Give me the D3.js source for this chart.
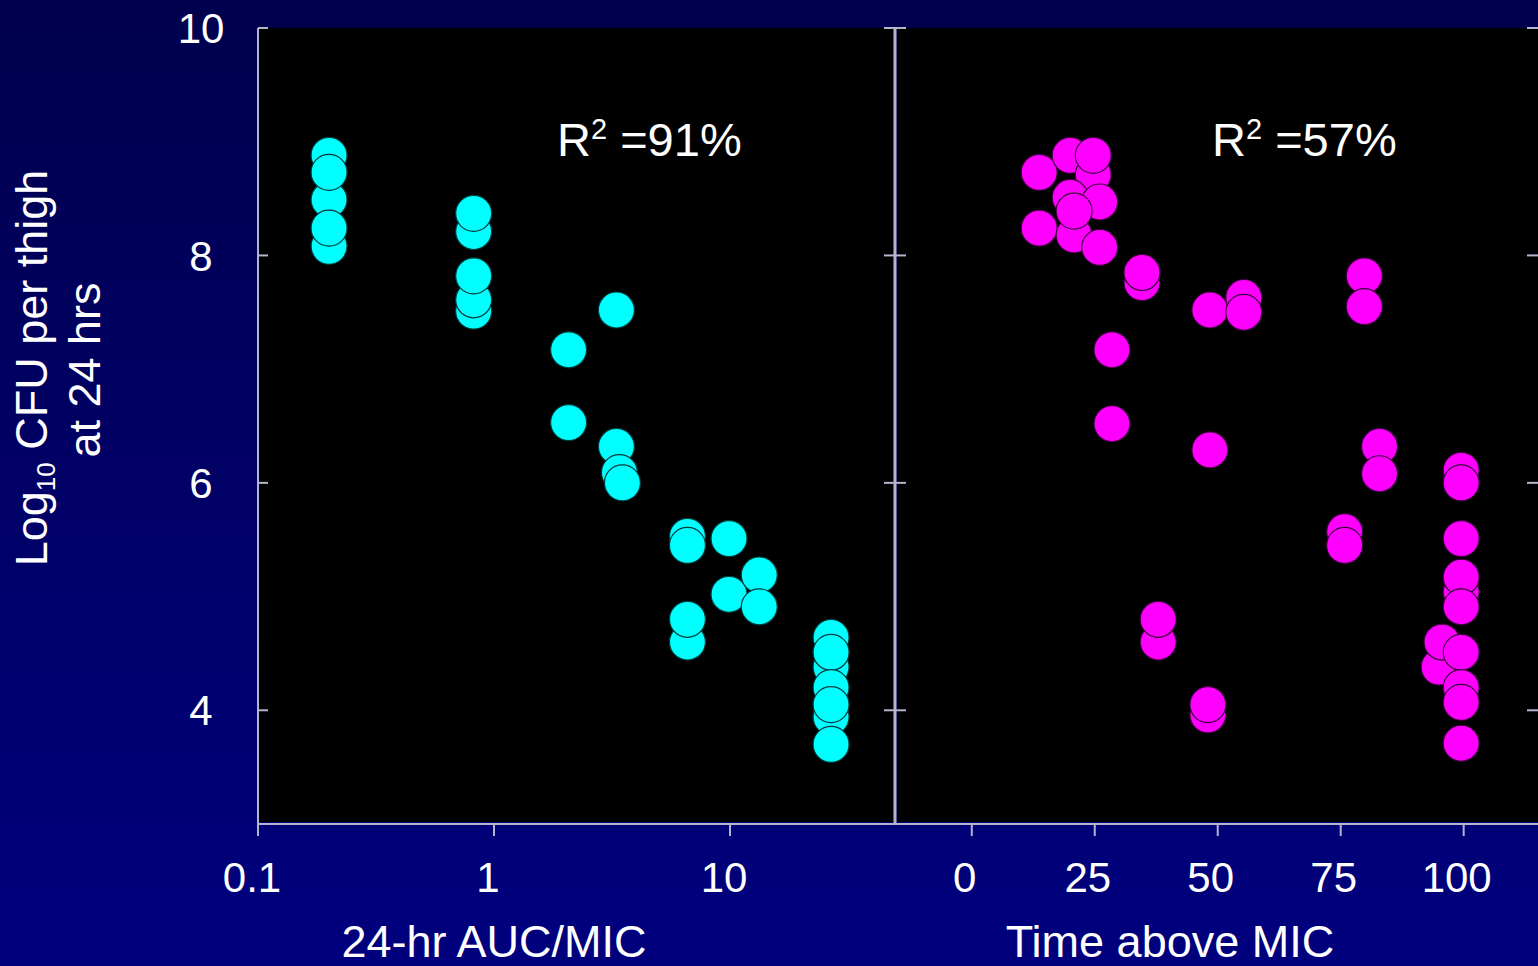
<!DOCTYPE html>
<html>
<head>
<meta charset="utf-8">
<script src="https://cdnjs.cloudflare.com/ajax/libs/d3/7.8.5/d3.min.js"></script>
<style>
  html, body { margin: 0; padding: 0; background: #000060; overflow: hidden; }
  svg { display: block; font-family: "Liberation Sans", Arial, sans-serif; }
</style>
</head>
<body>
<div id="chart"></div>
<script>
// data
var aucX = [0.2, 0.2, 0.2, 0.2, 0.2,
            0.82, 0.82, 0.82, 0.82, 0.82,
            2.07, 2.07,
            3.3, 3.3, 3.4, 3.5,
            6.6, 6.6, 6.6, 6.6,
            9.9, 9.9,
            13.3, 13.3,
            26.8, 26.8, 26.8, 26.8, 26.8, 26.8, 26.8];
var aucY = [8.88, 8.49, 8.08, 8.73, 8.24,
            7.51, 7.61, 7.82, 8.21, 8.37,
            7.17, 6.53,
            7.52, 6.32, 6.09, 6.0,
            5.53, 5.45, 4.60, 4.80,
            5.51, 5.02,
            5.19, 4.91,
            4.64, 4.38, 4.51, 3.94, 4.20, 4.05, 3.70];

var tamX = [13.7, 20, 24.7, 24.7, 20, 26, 13.7, 20.8, 20.8, 26,
            34.6, 34.6, 48.4, 55.3, 55.3, 28.5, 28.5, 48.4,
            79.8, 79.8, 82.9, 82.9, 99.5, 99.5, 75.8, 75.8,
            99.5, 99.5, 99.5, 99.5, 37.9, 37.9, 48, 48,
            95, 95.6, 99.5, 99.5, 99.5, 99.5];
var tamY = [8.73, 8.88, 8.71, 8.88, 8.51, 8.47, 8.24, 8.18, 8.39, 8.07,
            7.76, 7.85, 7.52, 7.63, 7.50, 7.17, 6.52, 6.29,
            7.82, 7.55, 6.32, 6.08, 6.11, 6.0, 5.57, 5.45,
            5.51, 5.04, 5.17, 4.91, 4.60, 4.80, 3.96, 4.05,
            4.38, 4.60, 4.51, 4.20, 4.07, 3.71];

var yTicks = [4, 6, 8, 10];
var aucTicks = [0.1, 1, 10];
var tamTicks = [0, 25, 50, 75, 100];
var aucTitle = "24-hr AUC/MIC";
var tamTitle = "Time above MIC";
var r2Left = "91%";
var r2Right = "57%";

var width = 1538, height = 966;
var plotTop = 28, plotBottom = 824;
var leftPanel = {x0: 258, x1: 893};
var rightPanel = {x0: 897, x1: 1538};
var axisColor = "#b4b4cc";

var svg = d3.select("#chart").append("svg")
            .attr("width", width)
            .attr("height", height);

// navy background gradient
var defs = svg.append("defs");
var grad = defs.append("linearGradient").attr("id", "bg")
               .attr("x1", 0).attr("y1", 0).attr("x2", 0).attr("y2", 1);
grad.append("stop").attr("offset", "0%").attr("stop-color", "#00004e");
grad.append("stop").attr("offset", "100%").attr("stop-color", "#00007e");
svg.append("rect").attr("width", width).attr("height", height).attr("fill", "url(#bg)");

// scales
var y = d3.scaleLinear().domain([3, 10]).range([plotBottom, plotTop]);
var xAuc = d3.scaleLog().domain([0.1, 50]).range([leftPanel.x0, leftPanel.x1 + 2]);
var xTam = d3.scaleLinear().domain([-15.2, 114.5]).range([rightPanel.x0, 1535]);

// black plot areas
svg.append("rect").attr("x", leftPanel.x0).attr("y", plotTop)
   .attr("width", leftPanel.x1 - leftPanel.x0).attr("height", plotBottom - plotTop - 2).attr("fill", "#000");
svg.append("rect").attr("x", rightPanel.x0).attr("y", plotTop)
   .attr("width", rightPanel.x1 - rightPanel.x0).attr("height", plotBottom - plotTop - 2).attr("fill", "#000");

// axis lines
var axes = svg.append("g").attr("stroke", axisColor).attr("fill", "none");
axes.append("line").attr("x1", 258).attr("x2", 258).attr("y1", plotTop).attr("y2", plotBottom).attr("stroke-width", 2);
axes.append("line").attr("x1", 895).attr("x2", 895).attr("y1", plotTop).attr("y2", plotBottom).attr("stroke-width", 3);
axes.append("line").attr("x1", 257).attr("x2", 1538).attr("y1", plotBottom).attr("y2", plotBottom).attr("stroke-width", 2);

// y ticks: inward on the left axis, crossing on the divider, inward on the right edge
yTicks.forEach(function(t) {
  axes.append("line").attr("x1", 258).attr("x2", 268).attr("y1", y(t)).attr("y2", y(t)).attr("stroke-width", 2);
  axes.append("line").attr("x1", 884).attr("x2", 906).attr("y1", y(t)).attr("y2", y(t)).attr("stroke-width", 2);
  axes.append("line").attr("x1", 1527).attr("x2", 1538).attr("y1", y(t)).attr("y2", y(t)).attr("stroke-width", 2);
});

// x ticks
aucTicks.forEach(function(t) {
  axes.append("line").attr("x1", xAuc(t)).attr("x2", xAuc(t)).attr("y1", plotBottom).attr("y2", plotBottom + 12).attr("stroke-width", 2);
});
tamTicks.forEach(function(t) {
  axes.append("line").attr("x1", xTam(t)).attr("x2", xTam(t)).attr("y1", plotBottom).attr("y2", plotBottom + 12).attr("stroke-width", 2);
});

// tick labels
var labels = svg.append("g").attr("fill", "#fff").attr("font-size", 42);
labels.selectAll(".ylab").data(yTicks).enter().append("text")
      .attr("class", "ylab")
      .attr("x", 201).attr("y", function(d) { return y(d); })
      .attr("dy", "0.36em")
      .attr("text-anchor", "middle")
      .text(function(d) { return d; });
labels.selectAll(".auclab").data(aucTicks).enter().append("text")
      .attr("class", "auclab")
      .attr("x", function(d) { return xAuc(d) - 6; }).attr("y", 892)
      .attr("text-anchor", "middle")
      .text(function(d) { return d; });
labels.selectAll(".tamlab").data(tamTicks).enter().append("text")
      .attr("class", "tamlab")
      .attr("x", function(d) { return xTam(d) - 7; }).attr("y", 892)
      .attr("text-anchor", "middle")
      .text(function(d) { return d; });

// axis titles
var titles = svg.append("g").attr("fill", "#fff").attr("font-size", 45);
titles.append("text").attr("x", 494).attr("y", 957).attr("text-anchor", "middle").text(aucTitle);
titles.append("text").attr("x", 1170).attr("y", 957).attr("text-anchor", "middle").text(tamTitle);

var yTitle = titles.append("text").attr("transform", "translate(47,368) rotate(-90)")
                   .attr("text-anchor", "middle").attr("font-size", 45);
yTitle.append("tspan").text("Log");
yTitle.append("tspan").attr("font-size", 26).attr("dy", 8).text("10");
yTitle.append("tspan").attr("dy", -8).text(" CFU per thigh");
titles.append("text").attr("transform", "translate(100,370) rotate(-90)")
      .attr("text-anchor", "middle").attr("font-size", 45).text("at 24 hrs");

// R squared labels
function r2(x, val) {
  var t = titles.append("text").attr("x", x).attr("y", 156).attr("font-size", 47);
  t.append("tspan").text("R");
  t.append("tspan").attr("font-size", 29).attr("dy", -17).text("2");
  t.append("tspan").attr("dy", 17).text(" =" + val);
}
r2(557, r2Left);
r2(1212, r2Right);

// points
var aucData = aucX.map(function(d, i) { return {x: d, y: aucY[i]}; });
var tamData = tamX.map(function(d, i) { return {x: d, y: tamY[i]}; });

svg.append("g").selectAll("circle").data(aucData).enter().append("circle")
   .attr("cx", function(d) { return xAuc(d.x); })
   .attr("cy", function(d) { return y(d.y); })
   .attr("r", 18)
   .attr("fill", "#00ffff")
   .attr("stroke", "#003a3a")
   .attr("stroke-width", 1.2);

svg.append("g").selectAll("circle").data(tamData).enter().append("circle")
   .attr("cx", function(d) { return xTam(d.x); })
   .attr("cy", function(d) { return y(d.y); })
   .attr("r", 18)
   .attr("fill", "#ff00ff")
   .attr("stroke", "#3a003a")
   .attr("stroke-width", 1.2);
</script>
</body>
</html>
